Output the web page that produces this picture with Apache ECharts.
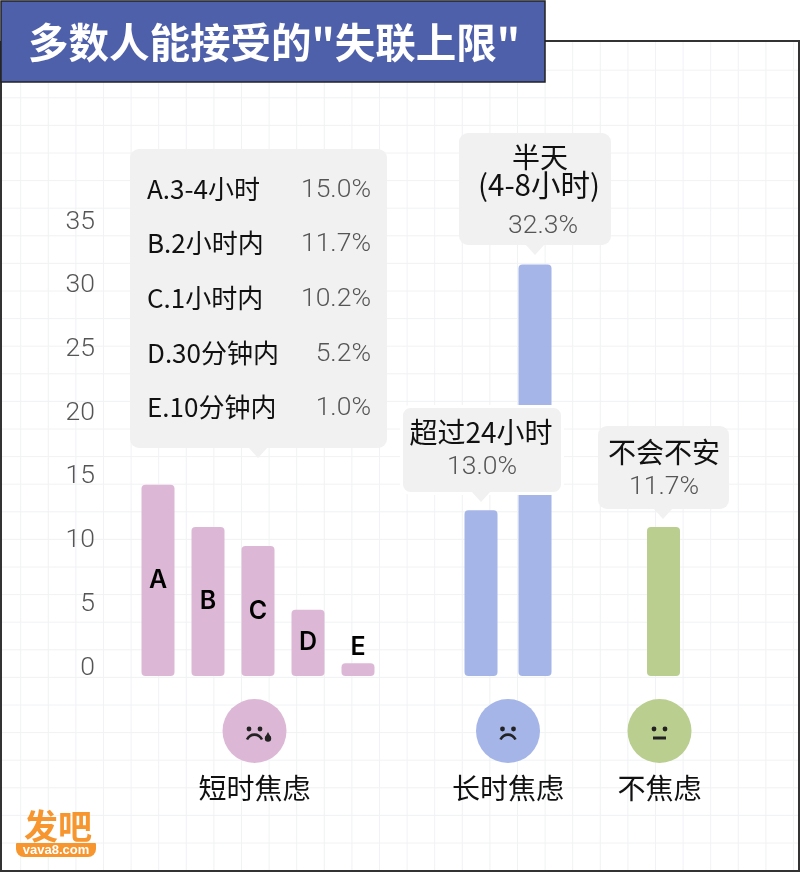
<!DOCTYPE html>
<html><head><meta charset="utf-8">
<style>html,body{margin:0;padding:0;background:#fff}#c{width:800px;height:873px}</style>
<script src="https://cdn.jsdelivr.net/npm/echarts@6/dist/echarts.min.js"></script>
</head><body><div id="c"></div>
<script>
const titleText = '多数人能接受的"失联上限"';
const shortCats = ['A','B','C','D','E'];
const shortVals = [15.0,11.7,10.2,5.2,1.0];
const shortNames = ['A.3-4小时','B.2小时内','C.1小时内','D.30分钟内','E.10分钟内'];
const longCats = ['超过24小时','半天(4-8小时)'];
const longVals = [13.0,32.3];
const noneCats = ['不会不安'];
const noneVals = [11.7];
const groupNames = ['短时焦虑','长时焦虑','不焦虑'];
const yTicks = [0,5,10,15,20,25,30,35];

const CJK = '"Noto Sans CJK SC","Noto Sans",sans-serif';
const NUM = 'Roboto,"Noto Sans CJK SC",sans-serif';
const pink='#dcb8d6', blue='#a5b5e8', green='#b9ce8f', boxFill='#f1f1f1', ink='#111', soft='#555';

const g=[];
for(let x=20.7;x<798;x+=27.6) g.push({type:'line',silent:true,z:0,shape:{x1:x,y1:42,x2:x,y2:870},style:{stroke:'#f1f2f4',lineWidth:1}});
for(let y=70.2;y<870;y+=27.6) g.push({type:'line',silent:true,z:0,shape:{x1:2,y1:y,x2:798,y2:y},style:{stroke:'#f1f2f4',lineWidth:1}});
const T=(text,x,y,size,fill,align,opts)=>({type:'text',z:20,silent:true,style:{text,x,y,fill,textAlign:align||'center',textVerticalAlign:'middle',font:(opts&&opts.w||'400')+' '+size+'px '+(opts&&opts.f||CJK)}});
function box(x0,y0,x1,y1,tipX,stroke){
  g.push({type:'polygon',z:12,silent:true,shape:{points:[[tipX-10,y1-1],[tipX+10,y1-1],[tipX,y1+10]]},style:{fill:boxFill}});
  const e=stroke?1.5:0;
  g.push({type:'rect',z:11,silent:true,shape:{x:x0-e,y:y0-e,width:x1-x0+2*e,height:y1-y0+2*e,r:9},style:{fill:boxFill,stroke:stroke?'#fff':null,lineWidth:stroke?3:0}});
}
// frame
[[1,41,1,871],[0,871,800,871],[799,41,799,871],[545,41,800,41]].forEach(l=>g.push({type:'line',z:5,silent:true,shape:{x1:l[0],y1:l[1],x2:l[2],y2:l[3]},style:{stroke:'#333',lineWidth:2}}));
// title
g.push({type:'rect',z:15,silent:true,shape:{x:1,y:1,width:544,height:81},style:{fill:'#4f60ab',stroke:'#222',lineWidth:1.5}});
g.push(T(titleText,28,43,40.5,'#fff','left',{w:'700'}));
// callouts
box(130,149,387,448,258);
const rowY=[189,243,298,353,407];
shortNames.forEach((n,i)=>{
  g.push(T(n,147,rowY[i],26,ink,'left'));
  g.push(T(shortVals[i].toFixed(1)+'%',371,rowY[i]+1.5,26.5,soft,'right',{f:NUM,w:'300'}));
});
box(459,133,611,245,535);
g.push(T('半天',540,157,28,ink));
g.push(T('(4-8小时)',539,185,29.5,ink));
g.push(T(longVals[1].toFixed(1)+'%',543,226,26.5,soft,'center',{f:NUM,w:'300'}));
box(403,408,561,492,481,true);
g.push(T('超过24小时',481,432,28,ink));
g.push(T(longVals[0].toFixed(1)+'%',482,467,26.5,soft,'center',{f:NUM,w:'300'}));
box(598,426,729,509,663,false);
g.push(T('不会不安',664,452,28,ink));
g.push(T(noneVals[0].toFixed(1)+'%',664,487,26.5,soft,'center',{f:NUM,w:'300'}));
// faces
const faceInk='#222';
function face(cx,fill,name,kind){
  g.push({type:'circle',z:6,silent:true,shape:{cx,cy:731,r:32},style:{fill}});
  [-5.5,5.5].forEach(d=>g.push({type:'circle',z:7,silent:true,shape:{cx:cx+d,cy:729,r:2.4},style:{fill:faceInk}}));
  if(kind==='flat') g.push({type:'line',z:7,silent:true,shape:{x1:cx-6.5,y1:738,x2:cx+6.5,y2:738},style:{stroke:faceInk,lineWidth:3}});
  else g.push({type:'bezierCurve',z:7,silent:true,shape:{x1:cx-7.5,y1:739.5,cpx1:cx-4,cpy1:733,cpx2:cx+4,cpy2:733,x2:cx+7.5,y2:739.5},style:{stroke:faceInk,lineWidth:2.6,fill:null}});
  g.push(T(name,cx,788,28,ink));
}
face(254.5,pink,groupNames[0],'sad');
g.push({type:'circle',z:7,silent:true,shape:{cx:268,cy:738.5,r:3.2},style:{fill:faceInk}});
g.push({type:'polygon',z:7,silent:true,shape:{points:[[265.3,737],[270.7,737],[268,732]]},style:{fill:faceInk}});
face(508,blue,groupNames[1],'sad');
face(659.5,green,groupNames[2],'flat');
// logo
g.push(T('发吧',58,826,34,'#f7962e','center',{w:'700'}));
g.push({type:'rect',z:7,silent:true,shape:{x:16,y:843,width:80,height:14,r:[1,1,8,8]},style:{fill:'#f7962e'}});
g.push(T('vava8.com',56,850.5,13,'#fff','center',{w:'700',f:'"Liberation Sans",sans-serif'}));

const barLabel=(names)=>({show:true,position:'inside',color:'#000',fontSize:25,fontWeight:600,fontFamily:'Inter,"Liberation Sans",sans-serif',formatter:p=>names?names[p.dataIndex]:''});
const yBase={type:'value',min:0,max:35,interval:5,splitLine:{show:false},axisLine:{show:false},axisTick:{show:false}};
const xBase={type:'category',axisLine:{show:false},axisTick:{show:false},axisLabel:{show:false}};
const gridTop=230,gridH=446;
const option={
  animation:false,backgroundColor:'#fff',
  graphic:g,
  grid:[
    {left:133,width:250,top:gridTop,height:gridH},
    {left:454,width:108,top:gridTop,height:gridH},
    {left:636.5,width:54,top:gridTop,height:gridH}
  ],
  xAxis:[
    Object.assign({gridIndex:0,data:shortCats},xBase),
    Object.assign({gridIndex:1,data:longCats},xBase),
    Object.assign({gridIndex:2,data:noneCats},xBase)
  ],
  yAxis:[
    Object.assign({gridIndex:0},yBase,{axisLabel:{show:true,margin:38,color:soft,fontSize:26.5,fontWeight:300,fontFamily:NUM,verticalAlign:'bottom',lineHeight:16,formatter:v=>yTicks.includes(v)?String(v):''}}),
    Object.assign({gridIndex:1},yBase,{axisLabel:{show:false}}),
    Object.assign({gridIndex:2},yBase,{axisLabel:{show:false}})
  ],
  series:[
    {type:'bar',xAxisIndex:0,yAxisIndex:0,barWidth:33,z:8,
     data:shortVals.map((v,i)=>({value:v,label:i===4?{position:'top',distance:3}:{}})),
     itemStyle:{color:pink,borderRadius:4},label:barLabel(shortCats)},
    {type:'bar',xAxisIndex:1,yAxisIndex:1,barWidth:33,z:8,data:longVals,itemStyle:{color:blue,borderRadius:4}},
    {type:'bar',xAxisIndex:2,yAxisIndex:2,barWidth:33,z:8,data:noneVals,itemStyle:{color:green,borderRadius:4}}
  ]
};
echarts.init(document.getElementById('c'),null,{renderer:'canvas'}).setOption(option);
</script></body></html>
